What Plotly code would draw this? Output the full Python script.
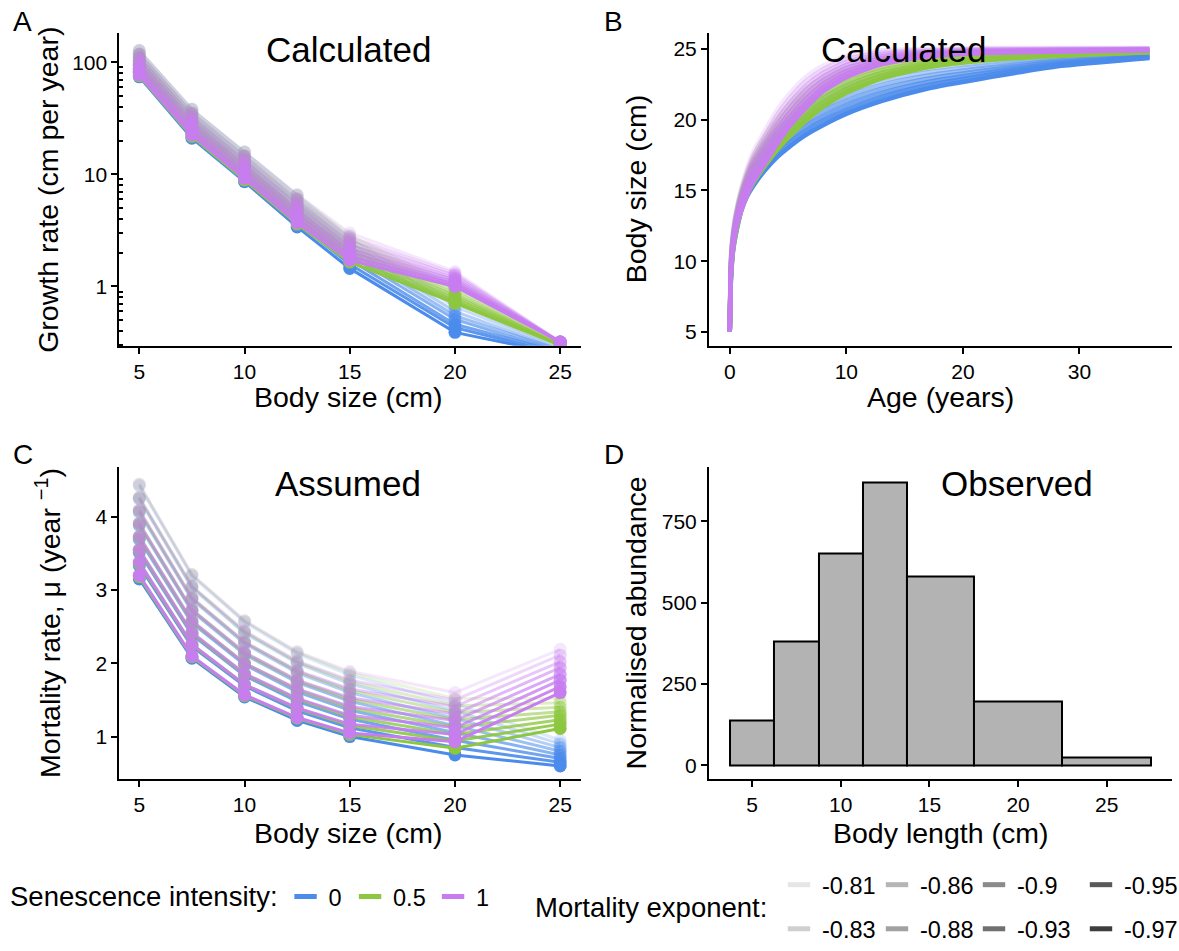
import plotly.graph_objects as go

W, H = 1179, 951
FONT = "Liberation Sans, Arial, sans-serif"

# ---------------- data ----------------
sizes = [5, 7.5, 10, 12.5, 15, 20, 25]
senescence = ["0", "0.5", "1"]
sen_colors = {"0": (74, 139, 235), "0.5": (141, 198, 63), "1": (199, 124, 240)}
mort_exp = [-0.81, -0.83, -0.86, -0.88, -0.9, -0.93, -0.95, -0.97]
mort_alpha = [0.18, 0.3, 0.42, 0.54, 0.66, 0.78, 0.9, 1.0]
legend_grays = ["#e6e6e6", "#cfcfcf", "#b6b6b6", "#a2a2a2", "#8a8a8a", "#707070", "#595959", "#3d3d3d"]

# Panel A: growth rate (cm per year) per mortality exponent (rows) at each size
growth_s0 = [
    [127, 38, 15.8, 6.5, 2.7, 0.72, 0.28],
    [117.6, 34.9, 14.5, 5.9, 2.47, 0.66, 0.28],
    [108.9, 32.1, 13.3, 5.4, 2.26, 0.60, 0.27],
    [100.8, 29.5, 12.2, 4.9, 2.07, 0.55, 0.27],
    [93.4, 27.1, 11.2, 4.5, 1.89, 0.51, 0.26],
    [86.5, 24.9, 10.2, 4.1, 1.73, 0.46, 0.26],
    [80.1, 22.9, 9.4, 3.7, 1.58, 0.43, 0.25],
    [74, 21, 8.6, 3.4, 1.45, 0.39, 0.25],
]
growth_s05 = [
    [127, 38, 15.8, 6.5, 2.85, 1.0, 0.30],
    [117.9, 35.1, 14.6, 6.0, 2.64, 0.95, 0.30],
    [109.5, 32.4, 13.4, 5.5, 2.44, 0.91, 0.30],
    [101.7, 30.0, 12.3, 5.0, 2.25, 0.86, 0.30],
    [94.4, 27.7, 11.4, 4.6, 2.09, 0.82, 0.30],
    [87.7, 25.6, 10.5, 4.24, 1.93, 0.78, 0.30],
    [81.4, 23.6, 9.6, 3.9, 1.78, 0.74, 0.30],
    [75.5, 21.8, 8.9, 3.6, 1.65, 0.71, 0.30],
]
growth_s1 = [
    [127, 38, 15.8, 6.6, 3.0, 1.36, 0.32],
    [118.3, 35.3, 14.6, 6.1, 2.77, 1.30, 0.32],
    [110.1, 32.7, 13.5, 5.6, 2.56, 1.25, 0.32],
    [102.5, 30.4, 12.5, 5.15, 2.36, 1.19, 0.32],
    [95.4, 28.2, 11.6, 4.74, 2.18, 1.14, 0.32],
    [88.8, 26.1, 10.7, 4.36, 2.02, 1.09, 0.32],
    [82.7, 24.3, 9.9, 4.02, 1.86, 1.05, 0.32],
    [77, 22.5, 9.2, 3.7, 1.72, 1.0, 0.32],
]

# Panel B: body size (cm) vs age (years)
ages = [0, 0.1, 0.3, 0.6, 1, 1.5, 2, 3, 4, 5, 6.5, 8, 10, 13, 17, 22, 28, 36]
length_s0 = [
    [5, 10.2, 12.1, 13.6, 14.9, 16.1, 17.0, 18.3, 19.3, 20.1, 21.1, 21.9, 22.6, 23.3, 23.8, 24.2, 24.45, 24.65],
    [5, 9.97, 11.91, 13.4, 14.71, 15.89, 16.76, 18.03, 19.01, 19.8, 20.79, 21.57, 22.29, 23.01, 23.57, 24.02, 24.35, 24.61],
    [5, 9.74, 11.73, 13.2, 14.53, 15.67, 16.51, 17.76, 18.73, 19.5, 20.47, 21.24, 21.97, 22.73, 23.34, 23.84, 24.25, 24.56],
    [5, 9.51, 11.54, 13.0, 14.34, 15.46, 16.27, 17.49, 18.44, 19.2, 20.16, 20.91, 21.66, 22.44, 23.11, 23.66, 24.15, 24.52],
    [5, 9.29, 11.36, 12.8, 14.16, 15.24, 16.03, 17.21, 18.16, 18.9, 19.84, 20.59, 21.34, 22.16, 22.89, 23.49, 24.05, 24.48],
    [5, 9.06, 11.17, 12.6, 13.97, 15.03, 15.79, 16.94, 17.87, 18.6, 19.53, 20.26, 21.03, 21.87, 22.66, 23.31, 23.95, 24.44],
    [5, 8.83, 10.99, 12.4, 13.79, 14.81, 15.54, 16.67, 17.59, 18.3, 19.21, 19.93, 20.71, 21.59, 22.43, 23.13, 23.85, 24.39],
    [5, 8.6, 10.8, 12.2, 13.6, 14.6, 15.3, 16.4, 17.3, 18.0, 18.9, 19.6, 20.4, 21.3, 22.2, 22.95, 23.75, 24.35],
]
length_s05 = [
    [5, 10.2, 12.2, 13.7, 15.1, 16.4, 17.4, 18.8, 20.0, 21.0, 22.2, 23.0, 23.7, 24.3, 24.6, 24.75, 24.8, 24.85],
    [5, 10.0, 12.01, 13.5, 14.89, 16.16, 17.13, 18.5, 19.69, 20.67, 21.87, 22.7, 23.44, 24.1, 24.47, 24.67, 24.76, 24.84],
    [5, 9.8, 11.83, 13.3, 14.67, 15.91, 16.86, 18.2, 19.37, 20.34, 21.54, 22.4, 23.19, 23.9, 24.34, 24.59, 24.71, 24.82],
    [5, 9.6, 11.64, 13.1, 14.46, 15.67, 16.59, 17.9, 19.06, 20.01, 21.21, 22.1, 22.93, 23.7, 24.21, 24.51, 24.67, 24.81],
    [5, 9.4, 11.46, 12.9, 14.24, 15.43, 16.31, 17.6, 18.74, 19.69, 20.89, 21.8, 22.67, 23.5, 24.09, 24.44, 24.63, 24.79],
    [5, 9.2, 11.27, 12.7, 14.03, 15.19, 16.04, 17.3, 18.43, 19.36, 20.56, 21.5, 22.41, 23.3, 23.96, 24.36, 24.59, 24.78],
    [5, 9.0, 11.09, 12.5, 13.81, 14.94, 15.77, 17.0, 18.11, 19.03, 20.23, 21.2, 22.16, 23.1, 23.83, 24.28, 24.54, 24.76],
    [5, 8.8, 10.9, 12.3, 13.6, 14.7, 15.5, 16.7, 17.8, 18.7, 19.9, 20.9, 21.9, 22.9, 23.7, 24.2, 24.5, 24.75],
]
length_s1 = [
    [5, 10.3, 12.3, 13.8, 15.2, 16.6, 17.7, 19.2, 20.6, 21.7, 23.0, 23.8, 24.5, 24.9, 25.0, 25.05, 25.05, 25.05],
    [5, 10.11, 12.11, 13.61, 14.97, 16.33, 17.4, 18.87, 20.26, 21.37, 22.69, 23.54, 24.29, 24.76, 24.92, 25.0, 25.01, 25.03],
    [5, 9.93, 11.93, 13.43, 14.74, 16.06, 17.1, 18.54, 19.91, 21.04, 22.37, 23.29, 24.07, 24.61, 24.84, 24.95, 24.98, 25.01],
    [5, 9.74, 11.74, 13.24, 14.51, 15.79, 16.8, 18.21, 19.57, 20.71, 22.06, 23.03, 23.86, 24.47, 24.76, 24.9, 24.94, 24.99],
    [5, 9.56, 11.56, 13.06, 14.29, 15.51, 16.5, 17.89, 19.23, 20.39, 21.74, 22.77, 23.64, 24.33, 24.69, 24.85, 24.91, 24.96],
    [5, 9.37, 11.37, 12.87, 14.06, 15.24, 16.2, 17.56, 18.89, 20.06, 21.43, 22.51, 23.43, 24.19, 24.61, 24.8, 24.87, 24.94],
    [5, 9.19, 11.19, 12.69, 13.83, 14.97, 15.9, 17.23, 18.54, 19.73, 21.11, 22.26, 23.21, 24.04, 24.53, 24.75, 24.84, 24.92],
    [5, 9.0, 11.0, 12.5, 13.6, 14.7, 15.6, 16.9, 18.2, 19.4, 20.8, 22.0, 23.0, 23.9, 24.45, 24.7, 24.8, 24.9],
]

# Panel C: mortality rate (per year)
mort_s0 = [
    [4.42, 3.19, 2.56, 2.13, 1.84, 1.45, 0.95],
    [4.24, 3.03, 2.41, 2.00, 1.72, 1.35, 0.90],
    [4.06, 2.87, 2.27, 1.87, 1.60, 1.25, 0.85],
    [3.88, 2.71, 2.12, 1.74, 1.48, 1.15, 0.80],
    [3.69, 2.55, 1.98, 1.61, 1.36, 1.05, 0.75],
    [3.51, 2.39, 1.83, 1.48, 1.24, 0.95, 0.70],
    [3.33, 2.23, 1.69, 1.35, 1.12, 0.85, 0.65],
    [3.15, 2.07, 1.54, 1.22, 1.00, 0.75, 0.60],
]
mort_s05 = [
    [4.44, 3.21, 2.58, 2.15, 1.87, 1.52, 1.52],
    [4.26, 3.05, 2.43, 2.02, 1.75, 1.42, 1.46],
    [4.08, 2.89, 2.29, 1.89, 1.63, 1.33, 1.40],
    [3.90, 2.73, 2.14, 1.76, 1.51, 1.23, 1.34],
    [3.72, 2.57, 2.00, 1.64, 1.39, 1.13, 1.29],
    [3.54, 2.41, 1.85, 1.51, 1.27, 1.03, 1.23],
    [3.36, 2.25, 1.71, 1.38, 1.15, 0.94, 1.17],
    [3.18, 2.09, 1.56, 1.25, 1.03, 0.84, 1.11],
]
mort_s1 = [
    [4.44, 3.21, 2.58, 2.16, 1.89, 1.60, 2.19],
    [4.26, 3.05, 2.44, 2.03, 1.77, 1.50, 2.11],
    [4.09, 2.89, 2.29, 1.90, 1.65, 1.41, 2.02],
    [3.91, 2.73, 2.15, 1.77, 1.53, 1.31, 1.94],
    [3.73, 2.58, 2.00, 1.65, 1.41, 1.22, 1.85],
    [3.55, 2.42, 1.86, 1.52, 1.29, 1.12, 1.77],
    [3.38, 2.26, 1.71, 1.39, 1.17, 1.03, 1.68],
    [3.20, 2.10, 1.57, 1.26, 1.05, 0.93, 1.60],
]

# Panel D: observed histogram
bin_edges = [3.75, 6.25, 8.75, 11.25, 13.75, 17.5, 22.5, 27.5]
abundance = [137, 380, 650, 870, 580, 197, 25]

growth = {"0": growth_s0, "0.5": growth_s05, "1": growth_s1}
lengths = {"0": length_s0, "0.5": length_s05, "1": length_s1}
mort = {"0": mort_s0, "0.5": mort_s05, "1": mort_s1}


def rgba(rgb, a):
    return "rgba(%d,%d,%d,%.3f)" % (rgb[0], rgb[1], rgb[2], a)


fig = go.Figure()

# Panel A and C: lines + points
for data, xa, ya in [(growth, "x", "y"), (mort, "x3", "y3")]:
    for s in senescence:
        for k, e in enumerate(mort_exp):
            c = rgba(sen_colors[s], mort_alpha[k])
            fig.add_trace(go.Scatter(
                x=sizes, y=data[s][k], mode="lines+markers",
                line=dict(color=c, width=3), marker=dict(color=c, size=13, line=dict(width=0)),
                xaxis=xa, yaxis=ya, showlegend=False, hoverinfo="skip"))

# Panel B: growth curves
for s in senescence:
    for k, e in enumerate(mort_exp):
        c = rgba(sen_colors[s], mort_alpha[k])
        fig.add_trace(go.Scatter(
            x=ages, y=lengths[s][k], mode="lines",
            line=dict(color=c, width=4.5, shape="spline", smoothing=0.6),
            xaxis="x2", yaxis="y2", showlegend=False, hoverinfo="skip"))

# Panel D: histogram
centers = [(bin_edges[i] + bin_edges[i + 1]) / 2 for i in range(len(abundance))]
widths = [bin_edges[i + 1] - bin_edges[i] for i in range(len(abundance))]
fig.add_trace(go.Bar(x=centers, y=abundance, width=widths,
                     marker=dict(color="#b3b3b3", line=dict(color="black", width=2)),
                     xaxis="x4", yaxis="y4", showlegend=False, hoverinfo="skip"))

# Legend entries
sen_lw = {"0": 13.5, "0.5": 32, "1": 30}
for s in senescence:
    fig.add_trace(go.Scatter(x=[None], y=[None], mode="markers", name=s,
                             marker=dict(symbol="line-ew", size=16,
                                         line=dict(width=5, color=rgba(sen_colors[s], 1))),
                             legend="legend", showlegend=True, legendwidth=sen_lw[s]))
row1 = [0, 2, 4, 6]
row2 = [1, 3, 5, 7]
col_lw = [47, 46, 56, 50]
for leg, idxs in [("legend2", row1), ("legend3", row2)]:
    for j, k in enumerate(idxs):
        fig.add_trace(go.Scatter(x=[None], y=[None], mode="markers", name="%g" % mort_exp[k],
                                 marker=dict(symbol="line-ew", size=16,
                                             line=dict(width=5, color=legend_grays[k])),
                                 legend=leg, showlegend=True, legendwidth=col_lw[j]))

# ---------------- layout ----------------
def ax(**kw):
    d = dict(showline=True, linecolor="black", linewidth=2, ticks="outside", ticklen=6,
             tickwidth=2, tickcolor="black", showgrid=False, zeroline=False,
             tickfont=dict(family=FONT, size=21, color="black"))
    d.update(kw)
    return d

xA = [120 / W, 584 / W]
xB = [712.6 / W, 1178 / W]
yTop = [1 - 352 / H, 1 - 34 / H]
yBot = [1 - 792.7 / H, 1 - 476 / H]

LEGFONT = dict(family=FONT, size=23.5, color="black")
fig.update_layout(
    width=W, height=H, margin=dict(l=0, r=0, t=0, b=0),
    template="none", paper_bgcolor="white", plot_bgcolor="white",
    font=dict(family=FONT, color="black"),
    xaxis=ax(domain=xA, range=[4.054, 25.99], tickvals=[5, 10, 15, 20, 25], anchor="y"),
    yaxis=ax(domain=yTop, type="log", range=[-0.528, 2.2566], tickvals=[1, 10, 100],
             ticktext=["1", "10", "100"], anchor="x",
             minor=dict(ticks="inside", ticklen=4, tickwidth=1.5, tickcolor="black",
                        tickvals=[0.3, 0.4, 0.5, 0.6, 0.7, 0.8, 0.9, 2, 3, 4, 5, 6, 7, 8, 9,
                                  20, 30, 40, 50, 60, 70, 80, 90])),
    xaxis2=ax(domain=xB, range=[-1.784, 37.94], tickvals=[0, 10, 20, 30], anchor="y2"),
    yaxis2=ax(domain=yTop, range=[4.027, 26.09], tickvals=[5, 10, 15, 20, 25], anchor="x2"),
    xaxis3=ax(domain=xA, range=[4.054, 25.99], tickvals=[5, 10, 15, 20, 25], anchor="y3"),
    yaxis3=ax(domain=yBot, range=[0.428, 4.67], tickvals=[1, 2, 3, 4], anchor="x3"),
    xaxis4=ax(domain=xB, range=[2.573, 28.68], tickvals=[5, 10, 15, 20, 25], anchor="y4"),
    yaxis4=ax(domain=yBot, range=[-40.4, 915], tickvals=[0, 250, 500, 750], anchor="x4"),
    showlegend=True,
    legend=dict(orientation="h", x=284 / W, xanchor="left", y=1 - 913 / H, yanchor="middle",
                font=LEGFONT, bgcolor="rgba(0,0,0,0)", itemwidth=36),
    legend2=dict(orientation="h", x=780 / W, xanchor="left", y=1 - 901 / H, yanchor="middle",
                 font=LEGFONT, bgcolor="rgba(0,0,0,0)", itemwidth=36),
    legend3=dict(orientation="h", x=780 / W, xanchor="left", y=1 - 946 / H, yanchor="middle",
                 font=LEGFONT, bgcolor="rgba(0,0,0,0)", itemwidth=36),
    bargap=0,
)

def ann(text, x, y, size, angle=0, xanchor="center"):
    fig.add_annotation(text=text, x=x / W, y=1 - y / H, xref="paper", yref="paper",
                       showarrow=False, xanchor=xanchor, yanchor="middle", textangle=angle,
                       font=dict(family=FONT, size=size, color="black"))

# panel letters
ann("A", 23, 22, 28)
ann("B", 617, 22, 28)
ann("C", 23, 463, 28)
ann("D", 617, 463, 28)
# panel titles
ann("Calculated", 350, 50, 35)
ann("Calculated", 908, 50, 35)
ann("Assumed", 350, 492, 35)
ann("Observed", 1022, 492, 35)
# axis titles
ann("Body size (cm)", 350, 404, 28.5)
ann("Age (years)", 945, 404, 28.5)
ann("Body size (cm)", 350, 848, 28.5)
ann("Body length (cm)", 945, 848, 28.5)
ann("Growth rate (cm per year)", 47.5, 193, 28.5, angle=-90)
ann("Body size (cm)", 639, 193, 28.5, angle=-90)
ann("Mortality rate, μ (year <sup>−1</sup>)", 47.5, 634, 28.5, angle=-90)
ann("Normalised abundance", 639, 634, 28.5, angle=-90)
# legend titles
ann("Senescence intensity:", 8, 913, 27.5, xanchor="left")
ann("Mortality exponent:", 536, 924, 27.5, xanchor="left")

fig.write_html("out.html")
